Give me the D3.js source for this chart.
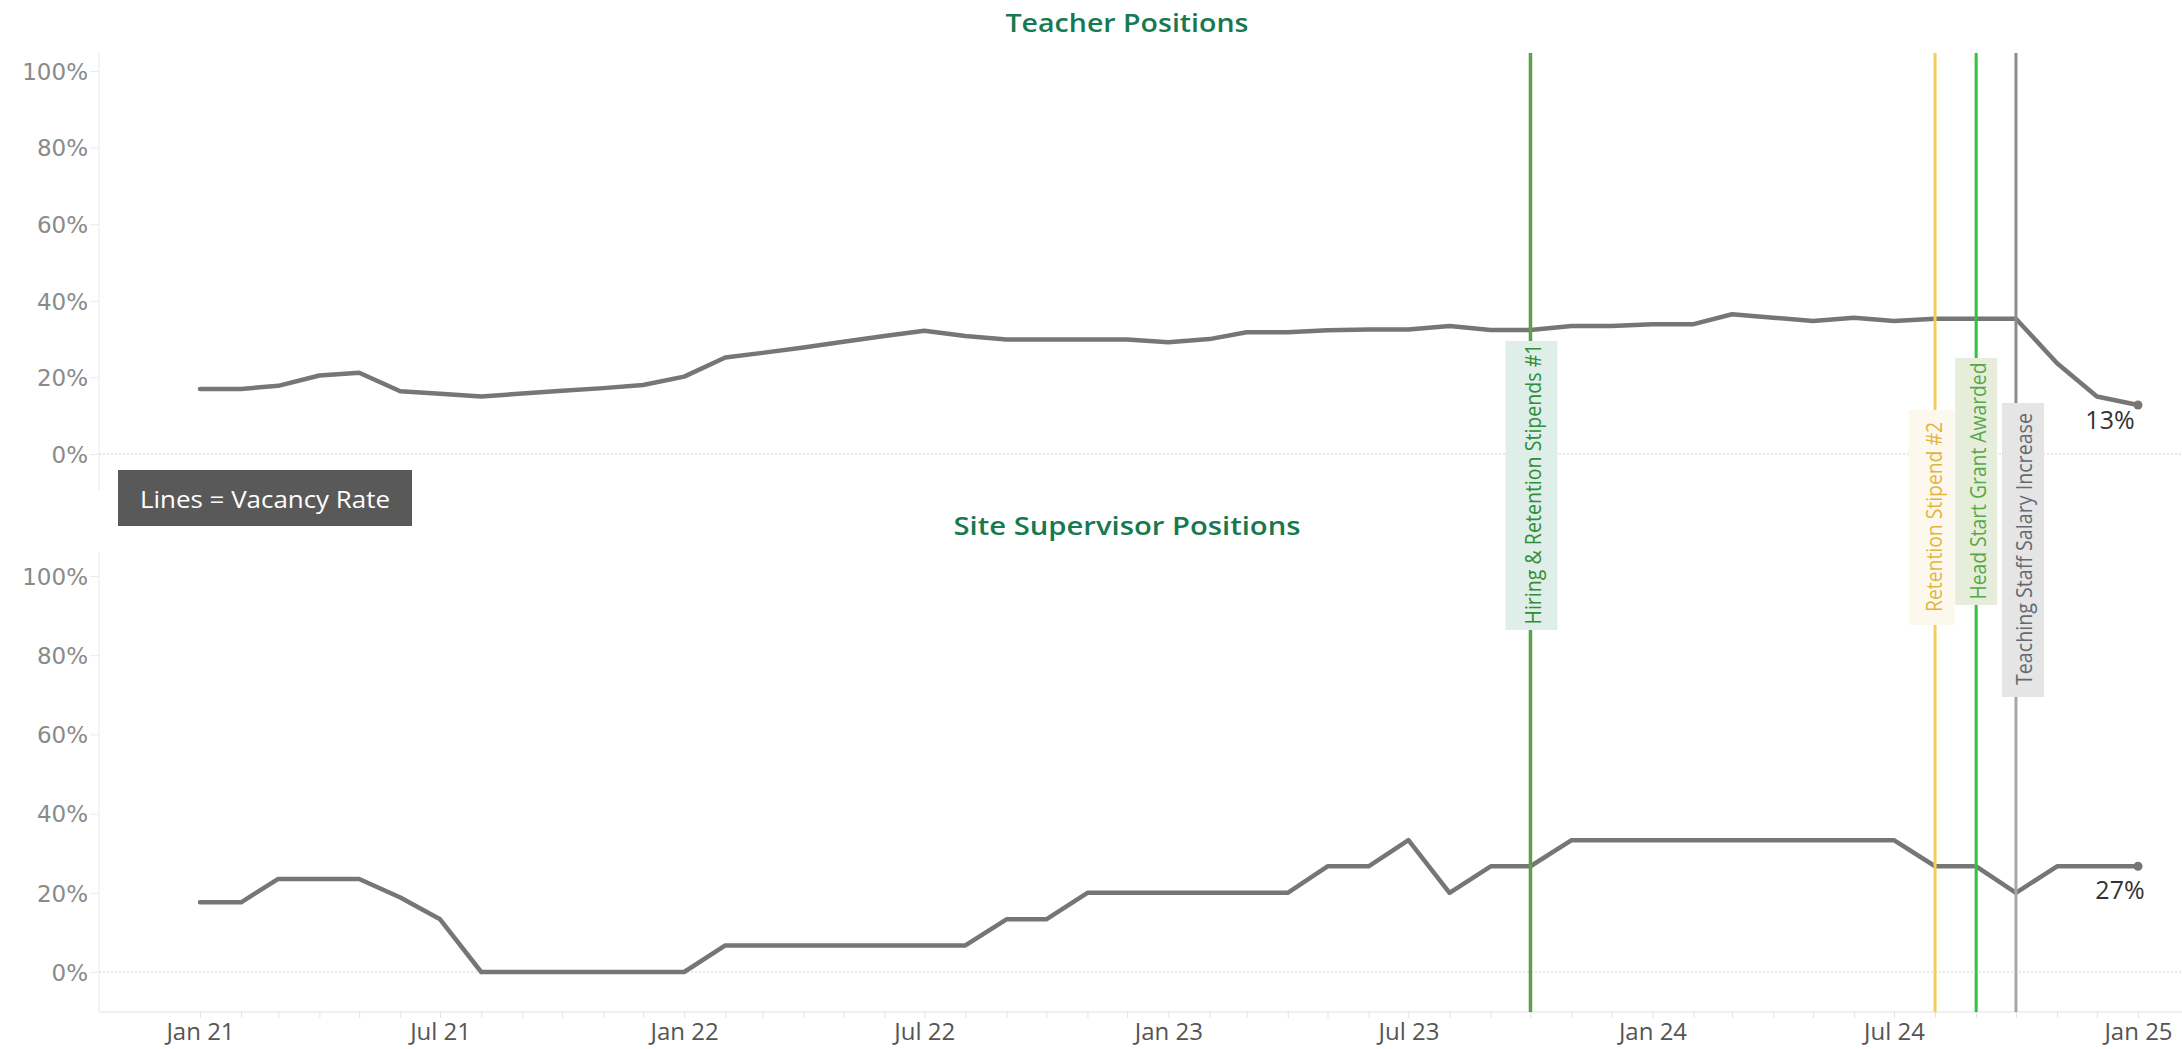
<!DOCTYPE html>
<html><head><meta charset="utf-8">
<script src="https://cdn.jsdelivr.net/npm/d3@7"></script>
<style>html,body{margin:0;padding:0;background:#fff;} svg{display:block}</style>
</head><body>
<svg id="chart" width="2182" height="1049"></svg>
<script>
// ---------- data ----------
const startMonth = "2021-01";
const teacherRate = [17.0,17.0,17.8,20.5,21.2,16.4,15.7,15.0,15.8,16.5,17.2,18.0,
  20.2,25.2,26.4,27.8,29.3,30.8,32.2,30.8,29.9,29.9,29.9,29.9,
  29.2,30.0,31.8,31.8,32.3,32.5,32.5,33.4,32.4,32.4,33.4,33.4,
  33.9,33.9,36.5,35.6,34.7,35.6,34.7,35.3,35.3,35.3,23.7,15.0,12.8];
const supervisorRate = [17.6,17.6,23.5,23.5,23.5,18.8,13.3,0,0,0,0,0,
  0,6.7,6.7,6.7,6.7,6.7,6.7,6.7,13.3,13.3,20,20,
  20,20,20,20,26.7,26.7,33.3,20,26.7,26.7,33.3,33.3,
  33.3,33.3,33.3,33.3,33.3,33.3,33.3,26.7,26.7,20,26.7,26.7,26.7];
const panelTitles = ["Teacher Positions", "Site Supervisor Positions"];
const endLabels = ["13%", "27%"];
const yTicks = [0, 20, 40, 60, 80, 100];
const xTickMonths = ["2021-01","2021-07","2022-01","2022-07","2023-01","2023-07","2024-01","2024-07","2025-01"];
const xTickLabels = ["Jan 21","Jul 21","Jan 22","Jul 22","Jan 23","Jul 23","Jan 24","Jul 24","Jan 25"];
const eventNames = ["Hiring & Retention Stipends #1","Retention Stipend #2","Head Start Grant Awarded","Teaching Staff Salary Increase"];
const eventMonths = ["2023-10","2024-08","2024-09","2024-10"];
const legendText = "Lines = Vacancy Rate";

// ---------- layout ----------
const parseMonth = d3.timeParse("%Y-%m");
const months = teacherRate.map((_, i) => d3.timeMonth.offset(parseMonth(startMonth), i));
const svg = d3.select("#chart");
const plotLeft = 99, plotRight = 2182;
const x = d3.scaleTime()
  .domain([months[0], months[months.length - 1]])
  .range([200, 2138]);

const panels = [
  {title: panelTitles[0], values: teacherRate, endLabel: endLabels[0], top: 52, bottom: 490, y0: 454, y100: 71, titleY: 22, titleLen: 243, labelDx: -28, labelDy: 14},
  {title: panelTitles[1], values: supervisorRate, endLabel: endLabels[1], top: 552, bottom: 1012, y0: 972, y100: 576, titleY: 525, titleLen: 347, labelDx: -18, labelDy: 23}
];

panels.forEach(p => {
  const y = d3.scaleLinear().domain([0, 100]).range([p.y0, p.y100]);
  const g = svg.append("g");
  g.append("line").attr("x1", plotLeft).attr("x2", plotLeft).attr("y1", p.top).attr("y2", p.bottom)
    .attr("stroke", "#f0f0f0").attr("stroke-width", 1.5);
  g.append("line").attr("x1", plotLeft).attr("x2", plotRight).attr("y1", y(0)).attr("y2", y(0))
    .attr("stroke", "#cfcfcf").attr("stroke-width", 1).attr("stroke-dasharray", "2,2");
  const ya = g.append("g").attr("transform", `translate(${plotLeft},0)`)
    .call(d3.axisLeft(y).tickValues(yTicks).tickFormat(d => d + "%").tickSize(9).tickPadding(2));
  ya.select(".domain").remove();
  ya.selectAll(".tick line").attr("stroke", "#ececec");
  ya.selectAll(".tick text").attr("fill", "#8a8a8a").style("font-family", "'DejaVu Sans', sans-serif")
    .style("font-size", "23px").attr("dy", "0.36em");
  const line = d3.line().x((d, i) => x(months[i])).y(d => y(d));
  g.append("path").datum(p.values).attr("d", line).attr("fill", "none")
    .attr("stroke", "#767676").attr("stroke-width", 4.5).attr("stroke-linejoin", "round").attr("stroke-linecap", "round");
  const last = p.values.length - 1;
  g.append("circle").attr("cx", x(months[last])).attr("cy", y(p.values[last])).attr("r", 4.5).attr("fill", "#767676");
  g.append("text").attr("x", x(months[last]) + p.labelDx).attr("y", y(p.values[last]) + p.labelDy)
    .attr("text-anchor", "middle").attr("dominant-baseline", "central")
    .style("font-family", "'Open Sans', sans-serif").style("font-size", "25px").attr("fill", "#333")
    .text(p.endLabel);
  g.append("text").attr("x", 1127).attr("y", p.titleY).attr("text-anchor", "middle").attr("dominant-baseline", "central")
    .style("font-family", "'Open Sans', sans-serif").style("font-size", "25px").style("font-weight", 600)
    .attr("fill", "#17794f").attr("textLength", p.titleLen).attr("lengthAdjust", "spacingAndGlyphs")
    .text(p.title);
});

// x axis on bottom panel
const bp = panels[1];
svg.append("line").attr("x1", plotLeft).attr("x2", plotRight).attr("y1", bp.bottom).attr("y2", bp.bottom)
  .attr("stroke", "#ebebeb").attr("stroke-width", 1.5);
const minor = svg.append("g").attr("transform", `translate(0,${bp.bottom})`)
  .call(d3.axisBottom(x).ticks(d3.timeMonth.every(1)).tickFormat("").tickSize(6));
minor.select(".domain").remove();
minor.selectAll(".tick line").attr("stroke", "#e2e2e2");
const major = svg.append("g").attr("transform", `translate(0,${bp.bottom})`)
  .call(d3.axisBottom(x).tickValues(xTickMonths.map(parseMonth))
    .tickFormat((d, i) => xTickLabels[i]).tickSize(0).tickPadding(11));
major.select(".domain").remove();
major.selectAll(".tick text").attr("fill", "#555").style("font-family", "'Open Sans', sans-serif").style("font-size", "24px");

// legend box
svg.append("rect").attr("x", 118).attr("y", 470).attr("width", 294).attr("height", 56).attr("fill", "#595959");
svg.append("text").attr("x", 265).attr("y", 498).attr("text-anchor", "middle").attr("dominant-baseline", "central")
  .style("font-family", "'Open Sans', sans-serif").style("font-size", "24px").attr("fill", "#fff")
  .attr("textLength", 250).attr("lengthAdjust", "spacingAndGlyphs").text(legendText);

// events
const eventStyles = [
  {line: "#5aa14c", lineBelow: "#5aa14c", width: 3.5, fill: "#dfeee9", text: "#2f8f35", boxDx: 1, boxW: 52, boxTop: 341, boxBottom: 630, textDx: 3, textCy: 484, textLen: 281},
  {line: "#f3cd5e", lineBelow: "#f3cd5e", width: 3, fill: "#fdf8ed", text: "#e3b540", boxDx: -3.5, boxW: 46, boxTop: 410, boxBottom: 625, textDx: -1, textCy: 517, textLen: 190},
  {line: "#2ec43b", lineBelow: "#2ec43b", width: 3, fill: "#e6eedb", text: "#55a949", boxDx: 0, boxW: 42, boxTop: 358, boxBottom: 605, textDx: 2, textCy: 481, textLen: 237},
  {line: "#8c8c8c", lineBelow: "#a5a7a8", width: 3, fill: "#e5e5e5", text: "#646a70", boxDx: 7, boxW: 42, boxTop: 403, boxBottom: 697, textDx: 8, textCy: 549, textLen: 272}
];
const lineTop = 53, lineBottom = bp.bottom;
eventNames.forEach((name, i) => {
  const s = eventStyles[i];
  const lx = x(parseMonth(eventMonths[i]));
  const g = svg.append("g");
  g.append("line").attr("x1", lx).attr("x2", lx).attr("y1", lineTop).attr("y2", s.boxTop + 5)
    .attr("stroke", s.line).attr("stroke-width", s.width);
  g.append("line").attr("x1", lx).attr("x2", lx).attr("y1", s.boxBottom - 5).attr("y2", lineBottom)
    .attr("stroke", s.lineBelow).attr("stroke-width", s.width);
  g.append("rect").attr("x", lx + s.boxDx - s.boxW / 2).attr("y", s.boxTop)
    .attr("width", s.boxW).attr("height", s.boxBottom - s.boxTop).attr("fill", s.fill);
  g.append("text").attr("transform", `translate(${lx + s.textDx},${s.textCy}) rotate(-90)`)
    .attr("text-anchor", "middle").attr("dominant-baseline", "central")
    .style("font-family", "'Open Sans', sans-serif").style("font-size", "21px").attr("fill", s.text)
    .attr("textLength", s.textLen).attr("lengthAdjust", "spacingAndGlyphs").text(name);
});
</script>
</body></html>
